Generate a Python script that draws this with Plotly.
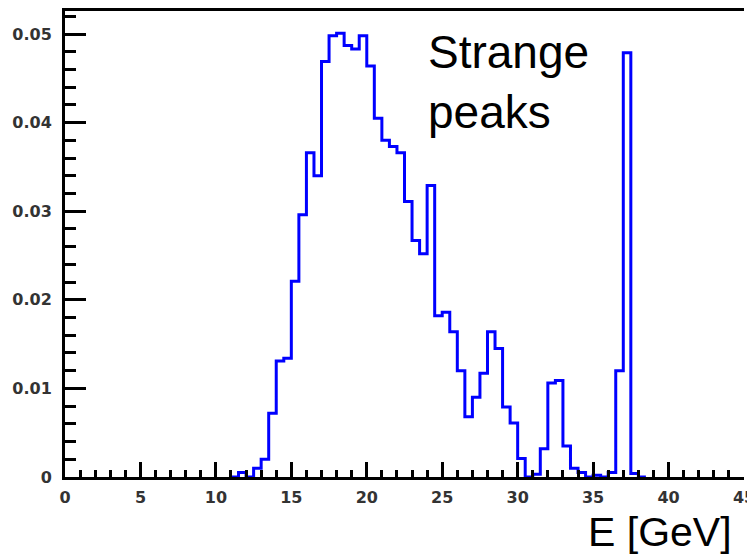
import plotly.graph_objects as go

# Histogram: lower bin edges (GeV), bin width 0.5 GeV, and normalised contents
bin_width = 0.5
bin_low = [11.0, 11.5, 12.0, 12.5, 13.0, 13.5, 14.0, 14.5, 15.0, 15.5,
           16.0, 16.5, 17.0, 17.5, 18.0, 18.5, 19.0, 19.5, 20.0, 20.5,
           21.0, 21.5, 22.0, 22.5, 23.0, 23.5, 24.0, 24.5, 25.0, 25.5,
           26.0, 26.5, 27.0, 27.5, 28.0, 28.5, 29.0, 29.5, 30.0, 30.5,
           31.0, 31.5, 32.0, 32.5, 33.0, 33.5, 34.0, 34.5, 35.0, 35.5,
           36.0, 36.5, 37.0, 37.5, 38.0]
counts = [0.0, 0.0005, 0.0, 0.0010, 0.0020, 0.0072, 0.0131, 0.0134, 0.0221, 0.0296,
          0.0366, 0.0340, 0.0469, 0.0498, 0.0501, 0.0487, 0.0483, 0.0498, 0.0464, 0.0405,
          0.0380, 0.0373, 0.0366, 0.0311, 0.0267, 0.0252, 0.0329, 0.0182, 0.0186, 0.0164,
          0.0120, 0.0068, 0.0090, 0.0117, 0.0164, 0.0145, 0.0079, 0.0061, 0.0021, 0.0,
          0.0003, 0.0032, 0.0106, 0.0109, 0.0035, 0.0010, 0.0005, 0.0, 0.0002, 0.0,
          0.0005, 0.0120, 0.0479, 0.0004, 0.0]

x_tick_vals = [0, 5, 10, 15, 20, 25, 30, 35, 40, 45]
x_tick_text = ["0", "5", "10", "15", "20", "25", "30", "35", "40", "45"]
y_tick_vals = [0, 0.01, 0.02, 0.03, 0.04, 0.05]
y_tick_text = ["0", "0.01", "0.02", "0.03", "0.04", "0.05"]

x_range = [0, 45]
y_range = [0, 0.0526]

# step outline
xs = [bin_low[0]] + bin_low + [bin_low[-1] + bin_width]
ys = [0.0] + counts + [0.0]

fig = go.Figure()
fig.add_trace(go.Scatter(
    x=xs, y=ys, mode="lines", line=dict(color="#0000FF", width=3, shape="hv"),
    hoverinfo="skip", showlegend=False,
))

tickfont = dict(family="DejaVu Sans", size=16, color="#333333", weight="bold")

fig.update_layout(
    width=747, height=555,
    margin=dict(l=65, r=3, t=11, b=78),
    paper_bgcolor="white", plot_bgcolor="white",
    xaxis=dict(
        range=x_range, showgrid=False, zeroline=False, automargin=False,
        showline=True, linecolor="black", linewidth=3, mirror=True,
        ticks="inside", ticklen=15, tickwidth=3, tickcolor="black",
        tickvals=x_tick_vals, ticktext=x_tick_text, tickfont=tickfont,
        minor=dict(dtick=1, ticks="inside", ticklen=7, tickwidth=2.5, tickcolor="black", showgrid=False),
        ticklabelstandoff=4, ticklabeloverflow="allow",
    ),
    yaxis=dict(
        range=y_range, showgrid=False, zeroline=False, automargin=False,
        showline=True, linecolor="black", linewidth=3, mirror=False,
        ticks="inside", ticklen=21, tickwidth=3, tickcolor="black",
        tickvals=y_tick_vals, ticktext=y_tick_text, tickfont=tickfont,
        minor=dict(dtick=0.002, ticks="inside", ticklen=11, tickwidth=2.5, tickcolor="black", showgrid=False),
        ticklabelstandoff=7, ticklabeloverflow="allow",
    ),
    annotations=[
        dict(text="Strange<br>peaks", xref="paper", yref="paper", x=0.531, y=0.972,
             xanchor="left", yanchor="top", align="left", showarrow=False,
             font=dict(family="Liberation Sans", size=46, color="black")),
        dict(text="E [GeV]", xref="paper", yref="paper", x=0.986, y=-0.064,
             xanchor="right", yanchor="top", showarrow=False,
             font=dict(family="Liberation Sans", size=41, color="black")),
    ],
)

fig.write_html("out.html")
